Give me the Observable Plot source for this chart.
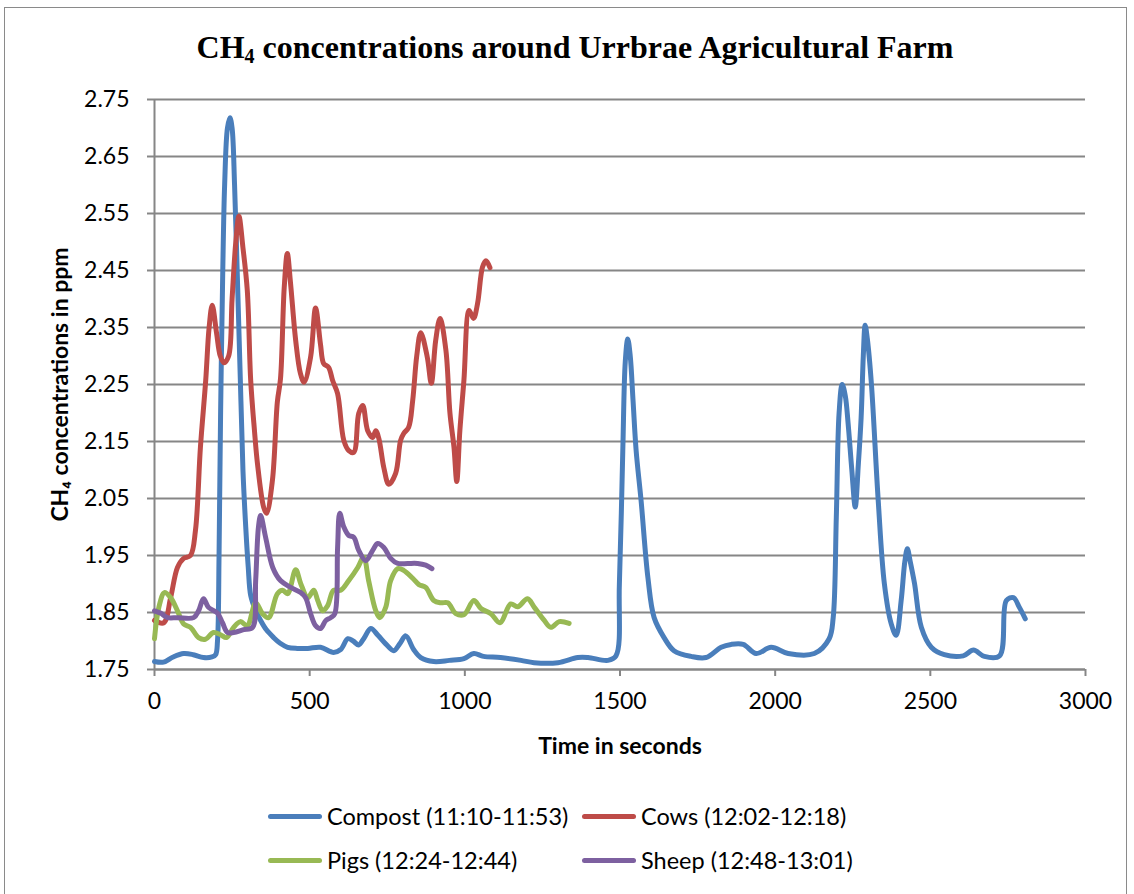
<!DOCTYPE html>
<html>
<head>
<meta charset="utf-8">
<script src="https://cdn.jsdelivr.net/npm/d3@7"></script>
<script src="https://cdn.jsdelivr.net/npm/@observablehq/plot@0.6"></script>
<style>
  body { margin: 0; background: #fff; }
  #wrap { position: relative; width: 1134px; height: 894px; overflow: hidden; background: #fff; }
  #border { position: absolute; left: 4px; top: 7px; width: 1123px; height: 900px; border: 1px solid #8a8a8a; box-sizing: border-box; }
  #title { position: absolute; left: 0; width: 1150px; top: 31px; text-align: center; font-family: "Liberation Serif", "Times New Roman", serif; font-weight: bold; font-size: 32px; line-height: 32px; color: #000; }
  #title sub { font-size: 20px; vertical-align: -5px; line-height: 0; }
  #chart { position: absolute; left: 0; top: 0; }
  .leg { position: absolute; display: flex; align-items: center; height: 30px; font-family: Lato, "Open Sans", sans-serif; font-size: 23.5px; color: #000; white-space: nowrap; }
  .sw { width: 54px; height: 5px; border-radius: 3px; margin-right: 5px; }
  svg [aria-label="y-axis label"], svg [aria-label="x-axis label"] { font-weight: bold; }
</style>
</head>
<body>
<div id="wrap">
  <div id="border"></div>
  <div id="title">CH<sub>4</sub> concentrations around Urrbrae Agricultural Farm</div>
  <div id="chart"></div>
  <div id="legend"></div>
</div>
<script>
const seriesNames = ["Compost (11:10-11:53)", "Cows (12:02-12:18)", "Pigs (12:24-12:44)", "Sheep (12:48-13:01)"];
const seriesColors = ["#4a7ebb", "#be4b48", "#98b954", "#7d60a0"];
const xTicks = [0, 500, 1000, 1500, 2000, 2500, 3000];
const yTicks = [1.75, 1.85, 1.95, 2.05, 2.15, 2.25, 2.35, 2.45, 2.55, 2.65, 2.75];

const compostT = [0,29,60,94,125,158,185,197,203,208,213,220,226,235,243,250,258,268,277,285,294,302,310,325,342,360,384,405,429,460,494,535,577,600,623,640,658,675,697,720,745,771,790,810,835,858,900,950,997,1029,1060,1115,1181,1223,1300,1364,1397,1461,1487,1498,1509,1517,1525,1533,1542,1552,1568,1590,1610,1642,1674,1729,1777,1826,1858,1897,1939,1987,2042,2126,2174,2187,2197,2206,2216,2226,2235,2247,2258,2268,2277,2284,2290,2297,2310,2332,2352,2374,2390,2406,2418,2426,2435,2449,2471,2503,2545,2606,2639,2674,2723,2745,2768,2787,2806];
const compostV = [1.764,1.763,1.772,1.778,1.776,1.771,1.772,1.776,1.80,1.95,2.20,2.45,2.60,2.70,2.718,2.70,2.60,2.42,2.25,2.10,2.00,1.93,1.88,1.855,1.836,1.82,1.806,1.796,1.789,1.787,1.787,1.789,1.780,1.785,1.804,1.800,1.793,1.805,1.822,1.810,1.795,1.783,1.795,1.809,1.785,1.771,1.764,1.766,1.769,1.778,1.773,1.771,1.766,1.762,1.762,1.771,1.771,1.766,1.774,1.90,2.134,2.29,2.33,2.30,2.222,2.134,2.046,1.911,1.841,1.806,1.783,1.773,1.771,1.789,1.794,1.794,1.778,1.789,1.778,1.778,1.804,1.841,2.017,2.20,2.25,2.23,2.182,2.10,2.035,2.11,2.192,2.30,2.354,2.33,2.252,2.047,1.90,1.83,1.81,1.871,1.94,1.962,1.94,1.901,1.824,1.789,1.776,1.774,1.784,1.773,1.774,1.871,1.876,1.859,1.839];

const cowsT = [0,30,52,74,94,116,132,148,165,176,186,200,212,224,239,250,262,272,285,299,310,322,332,352,361,380,396,406,418,428,438,455,470,482,503,519,535,545,561,574,590,610,626,642,658,671,687,703,713,723,739,755,777,793,803,819,832,845,858,879,892,906,920,939,952,965,974,984,997,1014,1028,1041,1057,1068,1081];
const cowsV = [1.836,1.832,1.876,1.929,1.945,1.95,1.994,2.14,2.257,2.35,2.389,2.34,2.30,2.288,2.30,2.40,2.50,2.545,2.49,2.415,2.257,2.17,2.11,2.034,2.024,2.082,2.22,2.26,2.42,2.48,2.43,2.327,2.27,2.254,2.298,2.384,2.32,2.287,2.28,2.257,2.234,2.152,2.134,2.131,2.199,2.213,2.169,2.157,2.169,2.155,2.104,2.075,2.094,2.152,2.164,2.175,2.222,2.30,2.341,2.298,2.252,2.327,2.366,2.31,2.20,2.14,2.08,2.169,2.257,2.38,2.366,2.392,2.456,2.467,2.455];

const pigsT = [0,14,32,52,74,94,116,142,164,190,213,232,255,277,299,326,348,368,396,413,429,455,471,494,513,526,542,558,577,600,626,655,674,690,713,726,745,761,784,803,832,852,874,900,923,945,971,997,1029,1052,1084,1113,1148,1170,1202,1224,1256,1277,1304,1336];
const pigsV = [1.804,1.859,1.885,1.876,1.853,1.83,1.824,1.806,1.803,1.815,1.811,1.806,1.824,1.834,1.827,1.867,1.848,1.841,1.883,1.889,1.883,1.925,1.901,1.876,1.889,1.871,1.853,1.862,1.889,1.889,1.906,1.929,1.947,1.906,1.853,1.841,1.859,1.906,1.927,1.924,1.91,1.899,1.894,1.871,1.867,1.867,1.848,1.846,1.871,1.857,1.848,1.832,1.865,1.86,1.874,1.859,1.836,1.824,1.834,1.831];

const sheepT = [0,19,42,74,126,142,158,174,203,219,235,255,287,316,326,335,342,358,381,406,439,471,487,503,519,535,552,568,581,590,597,610,626,642,658,681,703,719,739,761,784,816,848,874,894];
const sheepV = [1.853,1.849,1.841,1.841,1.841,1.853,1.874,1.859,1.849,1.832,1.815,1.815,1.82,1.824,1.906,2.0,2.02,1.982,1.929,1.906,1.894,1.885,1.876,1.848,1.827,1.822,1.836,1.841,1.848,1.964,2.024,2.0,1.985,1.982,1.959,1.941,1.959,1.971,1.964,1.945,1.936,1.936,1.936,1.933,1.927];

const allT = [compostT, cowsT, pigsT, sheepT];
const allV = [compostV, cowsV, pigsV, sheepV];
const rows = [];
seriesNames.forEach((name, i) => {
  allT[i].forEach((t, j) => rows.push({series: name, t, v: allV[i][j]}));
});

const gray = "#868686";
const chart = Plot.plot({
  width: 1134,
  height: 770,
  marginLeft: 154,
  marginRight: 49,
  marginTop: 99,
  marginBottom: 101,
  style: {fontFamily: "Lato, 'Open Sans', sans-serif", fontSize: "23px", color: "#000", background: "transparent", overflow: "visible"},
  x: {domain: [0, 3000]},
  y: {domain: [1.75, 2.75]},
  color: {domain: seriesNames, range: seriesColors},
  marks: [
    Plot.gridY(yTicks, {stroke: gray, strokeOpacity: 1, strokeWidth: 2}),
    Plot.axisY(yTicks, {tickSize: 7, tickPadding: 18, stroke: gray, strokeWidth: 2, tickFormat: d => d.toFixed(2),
      label: "CH₄ concentrations in ppm", labelAnchor: "center", labelArrow: "none", labelOffset: 103, fontSize: 23}),
    Plot.axisX(xTicks, {tickSize: 7, tickPadding: 16, stroke: gray, strokeWidth: 2, tickFormat: d => String(d),
      label: "Time in seconds", labelAnchor: "center", labelArrow: "none", labelOffset: 84, fontSize: 23}),
    Plot.ruleX([0], {stroke: gray, strokeWidth: 2}),
    Plot.ruleY([1.75], {stroke: gray, strokeWidth: 2}),
    Plot.line(rows, {x: "t", y: "v", z: "series", stroke: "series", strokeWidth: 5, curve: "catmull-rom", strokeLinejoin: "round", strokeLinecap: "round"})
  ]
});
document.getElementById("chart").appendChild(chart);

const legend = document.getElementById("legend");
const legPos = [[268, 801], [582, 801], [268, 845], [582, 845]];
seriesNames.forEach((name, i) => {
  const item = document.createElement("div");
  item.className = "leg";
  item.style.left = legPos[i][0] + "px";
  item.style.top = legPos[i][1] + "px";
  const sw = document.createElement("div");
  sw.className = "sw";
  sw.style.background = seriesColors[i];
  const tx = document.createElement("span");
  tx.textContent = name;
  item.appendChild(sw);
  item.appendChild(tx);
  legend.appendChild(item);
});
</script>
</body>
</html>
